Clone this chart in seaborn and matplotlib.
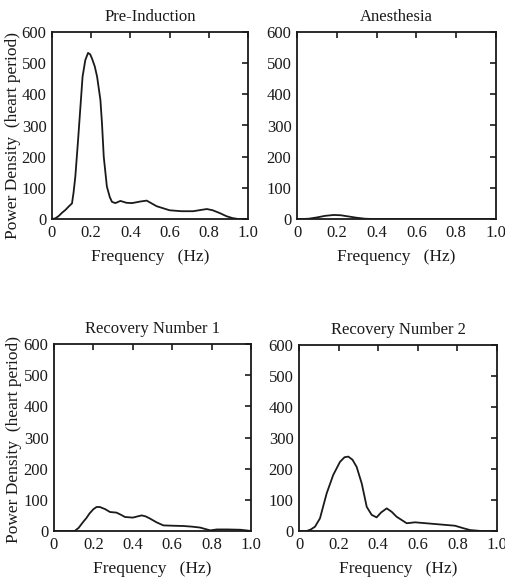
import numpy as np
import pandas as pd
import matplotlib
matplotlib.use("Agg")
import matplotlib.pyplot as plt
import seaborn as sns

sns.set_theme(style="white")
plt.rcParams['font.family'] = ['Liberation Serif', 'DejaVu Serif']

titles = ["Pre-Induction", "Anesthesia", "Recovery Number 1", "Recovery Number 2"]

pre_x = [0.0, 0.017, 0.035, 0.051, 0.07, 0.085, 0.102, 0.11, 0.119, 0.133, 0.145, 0.156, 0.17,
         0.184, 0.195, 0.204, 0.218, 0.23, 0.247, 0.255, 0.264, 0.28, 0.295, 0.306, 0.323,
         0.349, 0.38, 0.408, 0.45, 0.483, 0.534, 0.6, 0.66, 0.72, 0.76, 0.79, 0.82, 0.856,
         0.89, 0.92, 0.95, 1.0]
pre_y = [0, 2, 10, 20, 30, 40, 50, 85, 136, 253, 360, 457, 510,
         533, 528, 515, 490, 457, 382, 307, 200, 104, 70, 55, 51,
         58, 52, 51, 56, 59, 41, 28, 25, 25, 29, 32, 28, 19,
         9, 3, 0, 0]

ane_x = [0.0, 0.03, 0.06, 0.1, 0.14, 0.185, 0.22, 0.26, 0.3, 0.34, 0.38, 0.5, 1.0]
ane_y = [0, 0, 1, 5, 10, 13, 12, 8, 4, 1, 0, 0, 0]

rec1_x = [0.0, 0.105, 0.125, 0.148, 0.165, 0.18, 0.2, 0.216, 0.233, 0.26, 0.284, 0.317, 0.34,
          0.36, 0.4, 0.425, 0.445, 0.465, 0.487, 0.52, 0.555, 0.6, 0.657, 0.7, 0.742, 0.77,
          0.793, 0.827, 0.88, 0.946, 0.975, 1.0]
rec1_y = [0, 0, 10, 29, 42, 56, 70, 77, 77, 70, 61, 59, 52,
          45, 43, 47, 50, 47, 40, 28, 18, 17, 16, 14, 11, 6,
          2, 5, 5, 4, 2, 0]

rec2_x = [0.0, 0.039, 0.06, 0.081, 0.106, 0.14, 0.173, 0.207, 0.23, 0.249, 0.27, 0.291,
          0.317, 0.342, 0.367, 0.392, 0.415, 0.443, 0.468, 0.493, 0.544, 0.586, 0.678,
          0.788, 0.83, 0.864, 0.92, 1.0]
rec2_y = [0, 0, 5, 14, 41, 122, 181, 223, 238, 240, 230, 207,
          153, 78, 52, 44, 60, 73, 62, 46, 25, 28, 23,
          17, 9, 3, 0, 0]

series = [(pre_x, pre_y), (ane_x, ane_y), (rec1_x, rec1_y), (rec2_x, rec2_y)]

fig = plt.figure(figsize=(5.06, 5.78), dpi=100)
W, H = 506, 578
boxes = [(52, 32, 248, 219), (297, 32, 496, 219), (54, 344, 251, 531), (299, 345, 497, 531)]
ylabel_y = [0.444, None, 0.487, None]

xticks = [0, 0.2, 0.4, 0.6, 0.8, 1.0]
xlabels = ["0", "0.2", "0.4", "0.6", "0.8", "1.0"]
yticks = [0, 100, 200, 300, 400, 500, 600]

for i, ((x0, y0, x1, y1), title, (xs, ys)) in enumerate(zip(boxes, titles, series)):
    ax = fig.add_axes([x0 / W, 1 - y1 / H, (x1 - x0) / W, (y1 - y0) / H])
    df = pd.DataFrame({"f": xs, "p": ys})
    sns.lineplot(data=df, x="f", y="p", ax=ax, color="#1a1a1a", linewidth=1.3)
    ax.set_xlim(0, 1.0)
    ax.set_ylim(0, 600)
    ax.set_xticks(xticks)
    ax.set_xticklabels(xlabels)
    ax.set_yticks(yticks)
    ax.tick_params(direction="in", length=4, width=1.2, top=True, right=True,
                   labelsize=12, colors="#1a1a1a", pad=4)
    for sp in ax.spines.values():
        sp.set_visible(True)
        sp.set_color("#1a1a1a")
        sp.set_linewidth(1.3)
    ax.set_title(title, fontsize=12, color="#1a1a1a", pad=8)
    ax.set_xlabel("Frequency   (Hz)", fontsize=12.5, color="#1a1a1a", labelpad=6)
    if i % 2 == 0:
        ax.set_ylabel("Power Density  (heart period)", fontsize=12.5, color="#1a1a1a")
        ax.yaxis.set_label_coords(-0.16, ylabel_y[i])
    else:
        ax.set_ylabel("")

fig.savefig("out.png", dpi=100, facecolor="white")
